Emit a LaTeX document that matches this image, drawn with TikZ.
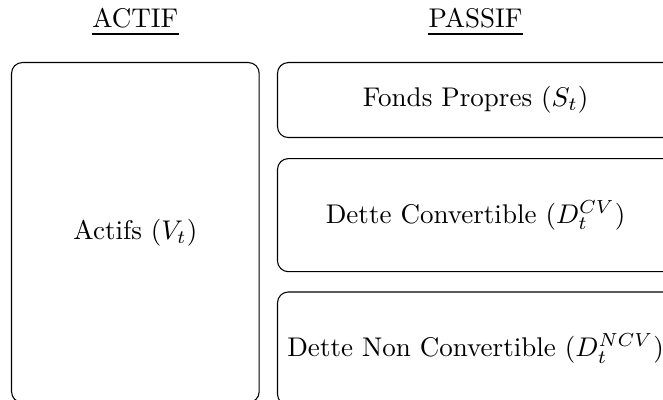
\documentclass[tikz,border=0pt]{standalone}
\usepackage{tikz}
\usetikzlibrary{positioning}

\begin{document}
\begin{tikzpicture}[node distance=2.5mm]
	\tikzstyle{bloc}=[rectangle, rounded corners, draw=black, minimum width=5.15cm, minimum height=1.47cm]
	\tikzstyle{titre}=[inner sep=0pt]
	\tikzstyle{souligne}=[line width=0.75pt]

	\useasboundingbox (0,0) rectangle (8.62,-5.19);

	\node [bloc, minimum width=3.22cm, minimum height=4.42cm, anchor=north west] (actifs) at (0.143,-0.806) {Actifs ($V_t$)};
	\node [bloc, minimum height=0.975cm, anchor=north west] (fp) at (3.601,-0.806) {Fonds Propres ($S_t$)};
	\node [bloc] (dcv) [below=0.26cm of fp] {Dette Convertible ($D_t^{CV}$)};
	\node [bloc] (dncv) [below=0.25cm of dcv] {Dette Non Convertible ($D_t^{NCV}$)};

	\node [titre] (actif) [above=0.43cm of actifs] {ACTIF};
	\node [titre] (passif) [above=0.43cm of fp] {PASSIF};
	\draw [souligne] ([yshift=-2.2pt]actif.base west) -- ([yshift=-2.2pt]actif.base east);
	\draw [souligne] ([yshift=-2.2pt]passif.base west) -- ([yshift=-2.2pt]passif.base east);
\end{tikzpicture}
\end{document}
